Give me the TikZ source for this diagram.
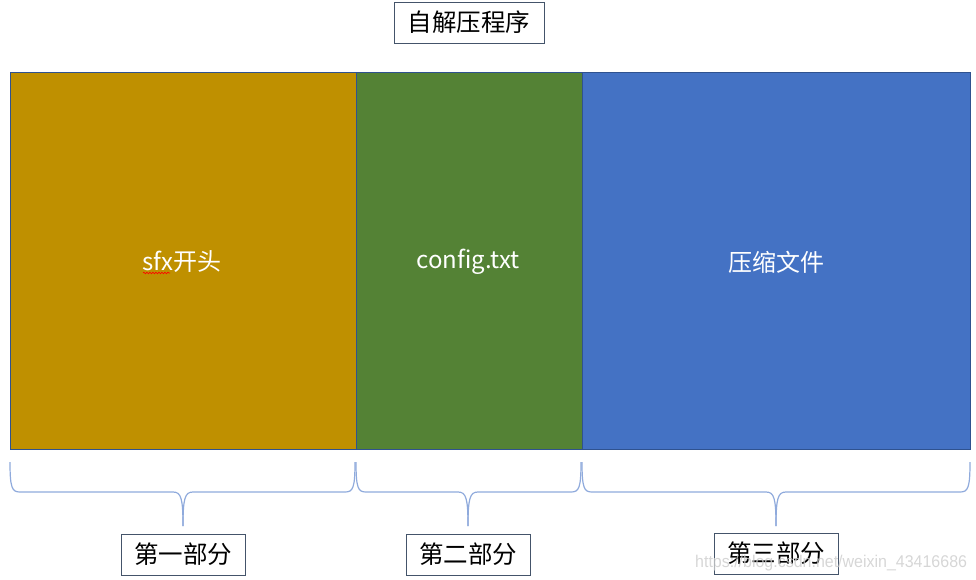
\documentclass[tikz,border=0pt]{standalone}
\usepackage{fontspec}
\setmainfont{Noto Sans CJK SC}
\newfontfamily\wmfont{Liberation Sans}
\usetikzlibrary{decorations.pathmorphing}
\definecolor{gold}{HTML}{BF9000}
\definecolor{grn}{HTML}{548235}
\definecolor{blu}{HTML}{4472C4}
\definecolor{edge}{HTML}{2F528F}
\definecolor{brc}{HTML}{8FAADC}
\definecolor{lbl}{HTML}{44546A}
\tikzset{
  part/.style={draw=edge, line width=0.8pt, inner sep=0pt},
  parttext/.style={text=white, font=\fontsize{24}{28}\selectfont},
  labelbox/.style={draw=lbl, line width=0.8pt, fill=white, text=black, font=\fontsize{24.5}{28}\selectfont, minimum height=41pt, inner sep=0pt},
  bracestyle/.style={draw=brc, line width=1.2pt}
}
\begin{document}
\begin{tikzpicture}[x=1pt,y=-1pt]
\useasboundingbox (0,0) rectangle (976,580);
% parts
\node[part, fill=gold, minimum width=346pt, minimum height=377pt] (p1) at (183,260.5) {};
\node[part, fill=grn, minimum width=226pt, minimum height=377pt] (p2) at (469,260.5) {};
\node[part, fill=blu, minimum width=388pt, minimum height=377pt] (p3) at (776,260.5) {};
\node[parttext] (t1) at (182,262) {sfx开头};
\node[parttext] (t2) at (468,262) {config.txt};
\node[parttext] (t3) at (776,262) {压缩文件};
\coordinate (sq1) at (143,273);
\coordinate (sq2) at (170,273);
\draw[red, line width=0.6pt, decorate, decoration={snake, amplitude=0.8pt, segment length=3pt}] (sq1) -- (sq2);
% title
\node[labelbox, minimum width=150pt] (title) at (469,22.5) {自解压程序};
% braces
\foreach \a/\b/\m/\n in {10/355/183/b1, 356/581/468/b2, 582/970/776/b3}{
  \coordinate (\n l) at (\a,462);
  \coordinate (\n r) at (\b,462);
  \coordinate (\n t) at (\m,526);
  \draw[bracestyle] (\n l) .. controls (\a,488) and (\a+2,492) .. (\a+10,492)
     -- (\m-10,492) .. controls (\m-2,492) and (\m,498) .. (\n t);
  \draw[bracestyle] (\n r) .. controls (\b,488) and (\b-2,492) .. (\b-10,492)
     -- (\m+10,492) .. controls (\m+2,492) and (\m,498) .. (\n t);
}
% bottom labels
\node[labelbox, minimum width=124pt] (l1) at (183,554.5) {第一部分};
\node[labelbox, minimum width=124pt] (l2) at (468,554.5) {第二部分};
\node[labelbox, minimum width=124pt] (l3) at (776,553.5) {第三部分};
\node[text=gray!40, opacity=0.8, font=\wmfont\fontsize{17}{20}\selectfont, anchor=west, inner sep=0pt, xscale=0.94] (wm) at (695,563) {https://blog.csdn.net/weixin\_43416686};
\end{tikzpicture}
\end{document}
